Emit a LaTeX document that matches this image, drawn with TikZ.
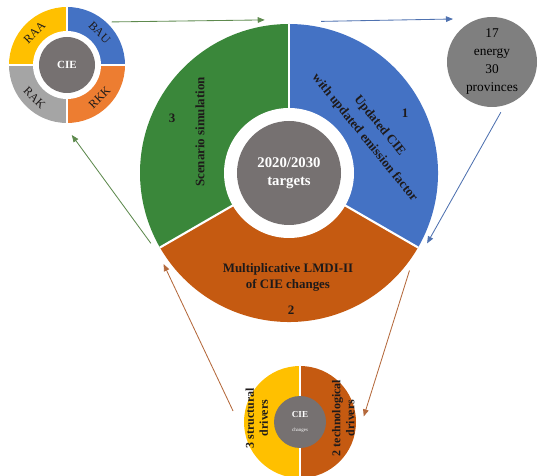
\documentclass[tikz,border=0pt]{standalone}
\usepackage{fontspec}
\setmainfont{Liberation Serif}
\usetikzlibrary{arrows.meta,positioning,calc}
\definecolor{segblue}{HTML}{4472C4}
\definecolor{seggreen}{HTML}{3A873A}
\definecolor{segorange}{HTML}{C55A11}
\definecolor{segyellow}{HTML}{FFC000}
\definecolor{seglight}{HTML}{ED7D31}
\definecolor{seggray}{HTML}{A5A5A5}
\definecolor{hubgray}{HTML}{767171}
\definecolor{ballgray}{HTML}{7F7F7F}
\definecolor{arrgreen}{HTML}{5E8A4E}
\definecolor{arrblue}{HTML}{4F72B0}
\definecolor{arrbrown}{HTML}{B4693C}
\definecolor{inktext}{HTML}{1E1A1A}

\begin{document}
\begin{tikzpicture}[
  rim/.style={circle,inner sep=0pt,outer sep=0.15cm},
  hub/.style={circle,fill=hubgray,inner sep=0pt,text=white,align=center},
  tx/.style={text=inktext,font=\bfseries\fontsize{9.2}{11}\selectfont,align=center},
  sep/.style={white,line width=1.5pt},
  ar/.style={-{Triangle[length=5pt,width=4pt]},line width=0.6pt}]
\useasboundingbox (0,0) rectangle (13.475,-11.9);
% ---------- main ring ----------
\node[rim,minimum size=7.45cm] (md) at (7.225,-4.325) {};
\foreach \c/\a in {seggreen/90,segorange/210,segblue/330}{
  \fill[\c] (md.center) -- ++(\a:3.725) arc[start angle=\a,delta angle=120,radius=3.725] -- cycle;
}
\foreach \a in {90,210,330}{\draw[sep] (md.center) -- ++(\a:3.725);}
\fill[white] (md.center) circle (1.625);
\node[hub,minimum size=2.6cm,font=\bfseries\fontsize{10.5}{13}\selectfont] (tg) at (md.center) {2020/2030\\targets};
\node[tx] (n3) at (4.3,-2.95) {3};
\node[tx,rotate=90] (ss) at (5.0,-3.3) {Scenario simulation};
\node[tx] (n1) at (10.125,-2.825) {1};
\node[tx,rotate=-51,font=\bfseries\fontsize{9.2}{13.5}\selectfont] (uc) at (9.3,-3.3) {Updated CIE\\with updated emission factor};
\node[tx] (lm) at (7.2,-6.94) {Multiplicative LMDI-II\\of CIE changes};
\node[tx] (n2) at (7.275,-7.75) {2};
% ---------- scenario ring ----------
\node[rim,minimum size=2.9cm,outer sep=0.1cm] (sd) at (1.675,-1.625) {};
\foreach \c/\a in {segblue/0,segyellow/90,seggray/180,seglight/270}{
  \fill[\c] (sd.center) -- ++(\a:1.45) arc[start angle=\a,delta angle=90,radius=1.45] -- cycle;
}
\foreach \a in {0,90,180,270}{\draw[sep,line width=2pt] (sd.center) -- ++(\a:1.45);}
\fill[white] (sd.center) circle (0.85);
\node[hub,minimum size=1.4cm,font=\bfseries\fontsize{7.8}{9}\selectfont] (ci) at (sd.center) {CIE};
\foreach \t/\a/\r in {BAU/45/-45,RAA/135/45,RAK/225/-45,RKK/315/45}{
  \node[font=\fontsize{8.5}{10}\selectfont,text=inktext,rotate=\r] (s\t) at ($(sd.center)+(\a:1.15)$) {\t};
}
% ---------- data ball ----------
\node[circle,fill=ballgray,minimum size=2.25cm,inner sep=0pt,outer sep=0.15cm,align=center,
  font=\fontsize{9.5}{12.8}\selectfont] (gc) at (12.3,-1.55) {17\\energy\\30\\provinces};
\coordinate (tp) at (11.325,-0.475);
% ---------- drivers ring ----------
\node[rim,minimum size=2.8cm,outer sep=0.2cm] (bc) at (7.5,-10.55) {};
\fill[segyellow] (bc.center) -- ++(90:1.4) arc[start angle=90,end angle=270,radius=1.4] -- cycle;
\fill[segorange] (bc.center) -- ++(-90:1.4) arc[start angle=-90,end angle=90,radius=1.4] -- cycle;
\draw[sep] (bc.center) ++(0,1.4) -- ++(0,-2.8);
\node[hub,minimum size=1.3cm] (ch) at (bc.center) {\bfseries\fontsize{6.5}{7}\selectfont CIE\\[-2pt]\fontsize{3.5}{4}\selectfont changes};
\node[tx,rotate=90,font=\bfseries\fontsize{8.5}{10}\selectfont] (sv) at (6.42,-10.45) {3 structural\\drivers};
\node[tx,rotate=90,font=\bfseries\fontsize{8.5}{10}\selectfont] (tv) at (8.58,-10.45) {2 technological\\drivers};
% ---------- links ----------
\draw[ar,arrgreen] (sd.44) -- (md.99);
\draw[ar,arrblue] (md.78) -- (tp);
\draw[ar,arrblue] (gc.-80) -- (md.-27);
\draw[ar,arrbrown] (md.-39) -- (bc.5);
\draw[ar,arrbrown,shorten <=0.18cm] (bc.176) -- (md.216);
\draw[ar,arrgreen,shorten >=0.25cm] (md.207) -- (sd.-91);
\end{tikzpicture}
\end{document}
